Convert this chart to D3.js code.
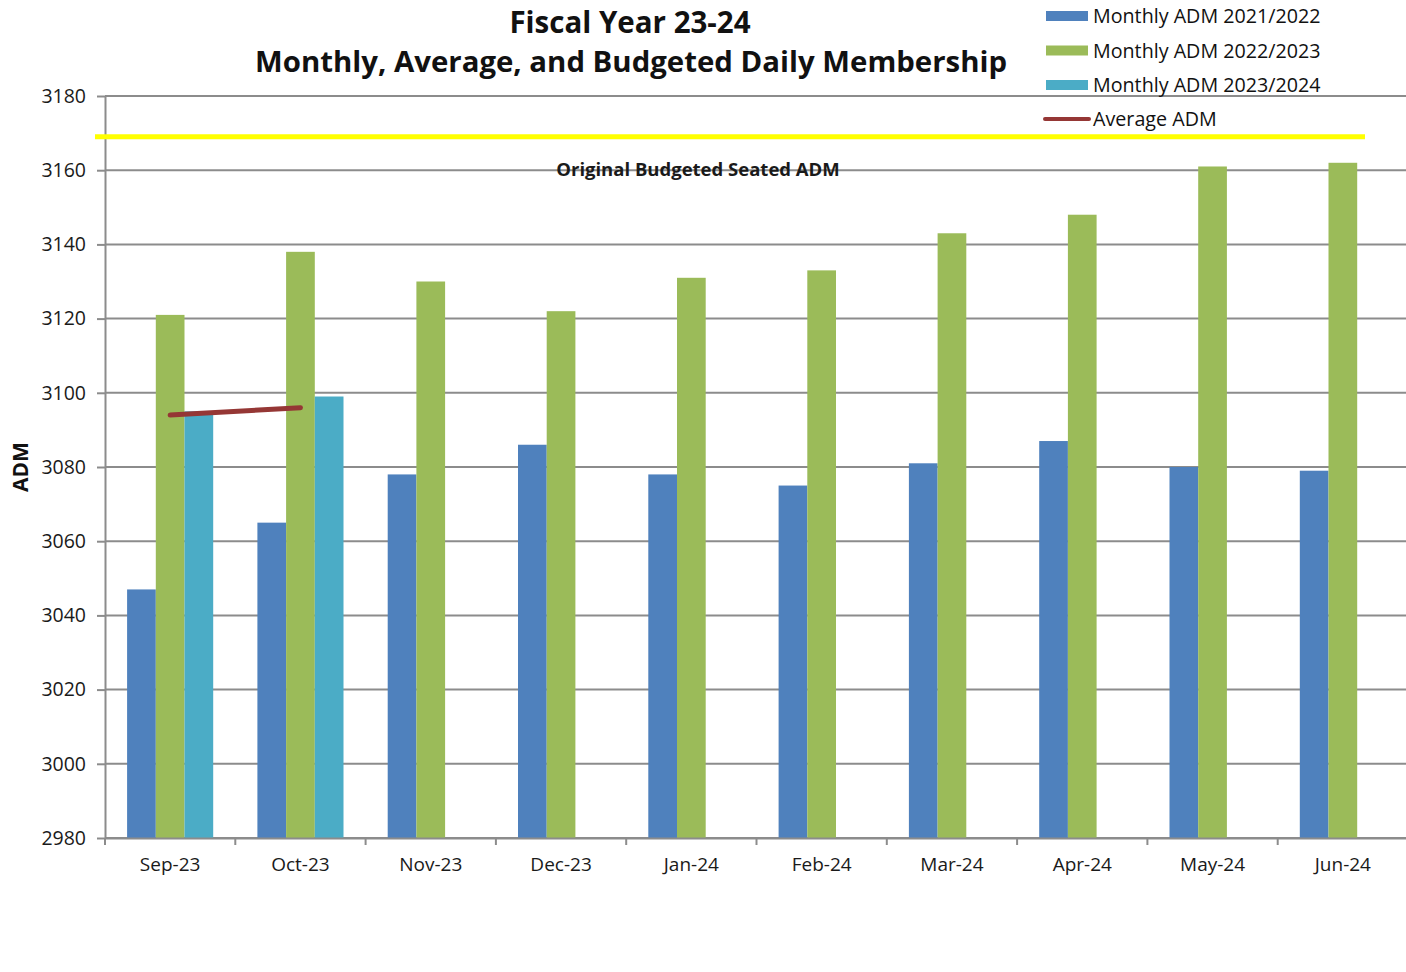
<!DOCTYPE html>
<html>
<head>
<meta charset="utf-8">
<script src="https://cdn.jsdelivr.net/npm/d3@7"></script>
<style>
  body { margin: 0; background: #fff; overflow: hidden; }
  svg { display: block; font-family: "Open Sans", sans-serif; }
</style>
</head>
<body>
<div id="chart"></div>
<script>
const months = ['Sep-23', 'Oct-23', 'Nov-23', 'Dec-23', 'Jan-24', 'Feb-24', 'Mar-24', 'Apr-24', 'May-24', 'Jun-24'];
const adm2122 = [3047, 3065, 3078, 3086, 3078, 3075, 3081, 3087, 3080, 3079];
const adm2223 = [3121, 3138, 3130, 3122, 3131, 3133, 3143, 3148, 3161, 3162];
const adm2324 = [3095, 3099];
const averageAdm = [3094, 3096];
const budgetedAdm = 3169;
const yTicks = [2980, 3000, 3020, 3040, 3060, 3080, 3100, 3120, 3140, 3160, 3180];

const seriesNames = ['Monthly ADM 2021/2022', 'Monthly ADM 2022/2023', 'Monthly ADM 2023/2024'];
const seriesColors = ['#4f81bd', '#9bbb59', '#4bacc6'];
const avgColor = '#953735';

const width = 1406
    , height = 972
    , margin = { top: 96, right: -2, bottom: 134, left: 105 }
    ;

const svg = d3.select('#chart')
  .append('svg')
  .attr('width', width)
  .attr('height', height);

const x = d3.scaleBand()
  .domain(months)
  .range([margin.left, width - margin.right])
  .paddingInner(0)
  .paddingOuter(0);

const x1 = d3.scaleBand()
  .domain([0, 1, 2])
  .range([0, x.bandwidth()])
  .paddingOuter(0.77)
  .paddingInner(0);

const y = d3.scaleLinear()
  .domain([2980, 3180])
  .range([height - margin.bottom, margin.top]);

// gridlines
svg.append('g')
  .selectAll('line')
  .data(yTicks)
  .join('line')
    .attr('x1', margin.left)
    .attr('x2', width)
    .attr('y1', d => y(d))
    .attr('y2', d => y(d))
    .attr('stroke', '#8c8c8c')
    .attr('stroke-width', 2);

// bars
const series = [adm2122, adm2223, adm2324];
series.forEach((vals, i) => {
  svg.append('g')
    .selectAll('rect')
    .data(vals)
    .join('rect')
      .attr('x', (d, j) => x(months[j]) + x1(i))
      .attr('width', x1.bandwidth())
      .attr('y', d => y(d))
      .attr('height', d => y(2980) - y(d))
      .attr('fill', seriesColors[i]);
});

// y axis
const yAxis = svg.append('g')
  .attr('transform', `translate(${margin.left},0)`)
  .call(d3.axisLeft(y).tickValues(yTicks).tickSize(8).tickSizeOuter(0).tickPadding(11).tickFormat(d3.format('d')));
yAxis.select('.domain').attr('stroke', '#8c8c8c').attr('stroke-width', 2);
yAxis.selectAll('.tick line').attr('stroke', '#8c8c8c').attr('stroke-width', 2);
yAxis.selectAll('text').attr('font-size', 19.5).attr('fill', '#1a1a1a').attr('font-family', '"Open Sans", sans-serif');

// x axis
const xAxis = svg.append('g')
  .attr('transform', `translate(0,${y(2980)})`)
  .call(d3.axisBottom(x).tickSize(0).tickPadding(20));
xAxis.select('.domain').attr('stroke', '#8c8c8c').attr('stroke-width', 2);
xAxis.selectAll('text').attr('font-size', 19).attr('fill', '#1a1a1a').attr('font-family', '"Open Sans", sans-serif');

const boundaries = months.map(m => x(m));
svg.append('g')
  .selectAll('line')
  .data(boundaries)
  .join('line')
    .attr('x1', d => d)
    .attr('x2', d => d)
    .attr('y1', y(2980))
    .attr('y2', y(2980) + 7)
    .attr('stroke', '#8c8c8c')
    .attr('stroke-width', 2);

// budget line
svg.append('line')
  .attr('x1', margin.left - 10)
  .attr('x2', 1365)
  .attr('y1', y(budgetedAdm))
  .attr('y2', y(budgetedAdm))
  .attr('stroke', '#ffff00')
  .attr('stroke-width', 5);

svg.append('text')
  .attr('x', 698)
  .attr('y', 176)
  .attr('text-anchor', 'middle')
  .attr('font-size', 18.5)
  .attr('font-weight', 'bold')
  .attr('fill', '#1a1a1a')
  .text('Original Budgeted Seated ADM');

// average line
const avgLine = d3.line()
  .x((d, i) => x(months[i]) + x.bandwidth() / 2)
  .y(d => y(d));
svg.append('path')
  .datum(averageAdm)
  .attr('d', avgLine)
  .attr('fill', 'none')
  .attr('stroke', avgColor)
  .attr('stroke-width', 5)
  .attr('stroke-linecap', 'round');

// title
svg.append('text')
  .attr('x', 630)
  .attr('y', 33)
  .attr('text-anchor', 'middle')
  .attr('font-size', 29.5)
  .attr('font-weight', 'bold')
  .attr('fill', '#111')
  .text('Fiscal Year 23-24');
svg.append('text')
  .attr('x', 631)
  .attr('y', 72)
  .attr('text-anchor', 'middle')
  .attr('font-size', 29)
  .attr('font-weight', 'bold')
  .attr('fill', '#111')
  .attr('textLength', 752)
  .attr('lengthAdjust', 'spacingAndGlyphs')
  .text('Monthly, Average, and Budgeted Daily Membership');

// y title
svg.append('text')
  .attr('transform', `translate(28,${467}) rotate(-90)`)
  .attr('text-anchor', 'middle')
  .attr('font-size', 21)
  .attr('font-weight', 'bold')
  .attr('fill', '#111')
  .text('ADM');

// legend
const legend = svg.append('g');
seriesNames.forEach((name, i) => {
  const ly = 16 + i * 34.5;
  legend.append('rect')
    .attr('x', 1046).attr('y', ly - 5)
    .attr('width', 42).attr('height', 10)
    .attr('fill', seriesColors[i]);
  legend.append('text')
    .attr('x', 1093).attr('y', ly + 7)
    .attr('font-size', 19.7)
    .attr('fill', '#111')
    .text(name);
});
legend.append('line')
  .attr('x1', 1045).attr('x2', 1089)
  .attr('y1', 119).attr('y2', 119)
  .attr('stroke', avgColor)
  .attr('stroke-width', 4)
  .attr('stroke-linecap', 'round');
legend.append('text')
  .attr('x', 1093).attr('y', 126)
  .attr('font-size', 19.7)
  .attr('fill', '#111')
  .text('Average ADM');
</script>
</body>
</html>
